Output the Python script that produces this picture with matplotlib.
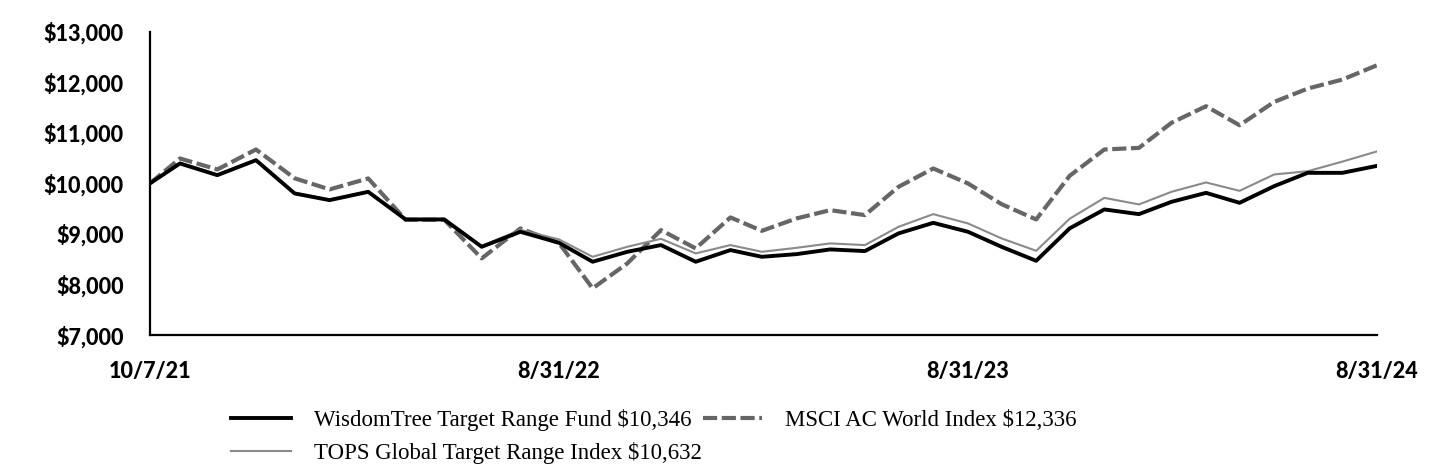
import matplotlib
matplotlib.use("Agg")
import matplotlib.pyplot as plt
import numpy as np
import pandas as pd

# Dates: inception, then month ends
dates = pd.DatetimeIndex([pd.Timestamp("2021-10-07")]).append(
    pd.date_range("2021-10-31", "2024-08-31", freq="ME"))

fund = [10000, 10393, 10162, 10458, 9800, 9668, 9832, 9286, 9286, 8745,
        9042, 8824, 8449, 8646, 8779, 8449, 8680, 8547, 8600, 8693,
        8660, 9010, 9219, 9042, 8745, 8468, 9110, 9484, 9391, 9634,
        9812, 9615, 9945, 10208, 10208, 10346]
tops = [10000, 10410, 10175, 10470, 9815, 9680, 9845, 9295, 9295, 8760,
        9080, 8891, 8547, 8745, 8903, 8614, 8779, 8646, 8725, 8812,
        8779, 9140, 9391, 9207, 8911, 8666, 9300, 9713, 9583, 9832,
        10018, 9852, 10176, 10240, 10430, 10632]
msci = [10000, 10492, 10275, 10670, 10100, 9880, 10097, 9280, 9280, 8516,
        9108, 8818, 7923, 8417, 9075, 8713, 9326, 9061, 9306, 9470,
        9372, 9931, 10294, 9998, 9589, 9286, 10150, 10670, 10702, 11196,
        11526, 11150, 11611, 11875, 12053, 12336]

tick_dates = ["2021-10-07", "2022-08-31", "2023-08-31", "2024-08-31"]
tick_labels = ["10/7/21", "8/31/22", "8/31/23", "8/31/24"]
yticks = [7000, 8000, 9000, 10000, 11000, 12000, 13000]

labels = ["WisdomTree Target Range Fund $10,346",
          "TOPS Global Target Range Index $10,632",
          "MSCI AC World Index $12,336"]

# each labelled period gets the same width on the axis
tick_ord = [pd.Timestamp(d).toordinal() for d in tick_dates]
x = np.interp([d.toordinal() for d in dates], tick_ord, range(len(tick_ord)))

fig = plt.figure(figsize=(14.4, 4.68), dpi=100)
ax = fig.add_axes([150 / 1440, 1 - 335 / 468, 1227 / 1440, 303.3 / 468])

l1, = ax.plot(x, fund, color="black", lw=2.8, zorder=3)
l2, = ax.plot(x, tops, color="#8a8a8a", lw=1.5, zorder=2)
l3, = ax.plot(x, msci, color="#666666", lw=3, dashes=(3.4, 1.1), zorder=1)

ax.set_xlim(0, 3)
ax.set_ylim(7000, 13000)
ax.set_yticks(yticks)
ax.set_yticklabels([f"${v:,}" for v in yticks])
ax.set_xticks(range(len(tick_labels)))
ax.set_xticklabels(tick_labels)

for t in ax.get_yticklabels() + ax.get_xticklabels():
    t.set_fontfamily(["Lato", "Roboto", "DejaVu Sans"])
    t.set_fontweight("black")
    t.set_fontsize(15.5)
ax.tick_params(axis="both", length=0)
ax.tick_params(axis="y", pad=19)
ax.tick_params(axis="x", pad=19)

for s in ["top", "right"]:
    ax.spines[s].set_visible(False)
for s in ["left", "bottom"]:
    ax.spines[s].set_linewidth(1.6)

fig.legend([l1, l2, l3], labels, loc="upper left",
           bbox_to_anchor=(231 / 1440, 1 - 409 / 468), ncol=2,
           frameon=False, borderpad=0, borderaxespad=0,
           handlelength=2.6, handletextpad=1.0, columnspacing=0.05,
           labelspacing=0.5,
           prop=dict(family="Liberation Serif", size=16.5))

fig.savefig("out.png", dpi=100)
